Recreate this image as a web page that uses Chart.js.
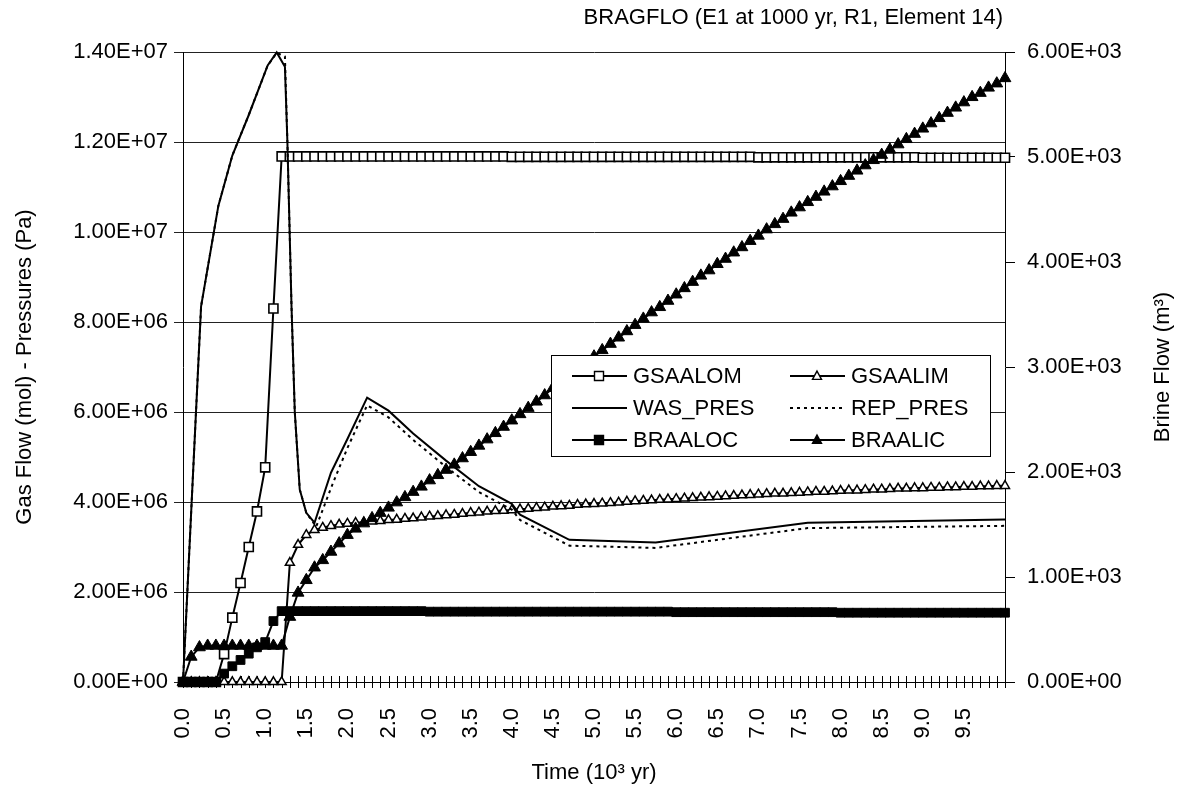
<!DOCTYPE html>
<html>
<head>
<meta charset="utf-8">
<script src="https://cdn.jsdelivr.net/npm/chart.js@4.4.1/dist/chart.umd.min.js"></script>
<style>
  html, body { margin: 0; padding: 0; background: #fff; }
  canvas { display: block; }
</style>
</head>
<body>
<canvas id="bragfloChart" width="1183" height="790"></canvas>
<script>
// time of each output step, 10^3 yr
var timeKyr = [
    0.0, 0.1, 0.2, 0.3, 0.4, 0.5, 0.6, 0.7, 0.8, 0.9,
    1.0, 1.1, 1.2, 1.3, 1.4, 1.5, 1.6, 1.7, 1.8, 1.9,
    2.0, 2.1, 2.2, 2.3, 2.4, 2.5, 2.6, 2.7, 2.8, 2.9,
    3.0, 3.1, 3.2, 3.3, 3.4, 3.5, 3.6, 3.7, 3.8, 3.9,
    4.0, 4.1, 4.2, 4.3, 4.4, 4.5, 4.6, 4.7, 4.8, 4.9,
    5.0, 5.1, 5.2, 5.3, 5.4, 5.5, 5.6, 5.7, 5.8, 5.9,
    6.0, 6.1, 6.2, 6.3, 6.4, 6.5, 6.6, 6.7, 6.8, 6.9,
    7.0, 7.1, 7.2, 7.3, 7.4, 7.5, 7.6, 7.7, 7.8, 7.9,
    8.0, 8.1, 8.2, 8.3, 8.4, 8.5, 8.6, 8.7, 8.8, 8.9,
    9.0, 9.1, 9.2, 9.3, 9.4, 9.5, 9.6, 9.7, 9.8, 9.9,
    10.0
];

// gas flow, 10^6 mol (left axis)
var gsaalom = [
    0, 0, 0, 0, 0, 0.62, 1.43, 2.2, 3.0, 3.79,
    4.77, 8.3, 11.68, 11.68, 11.68, 11.68, 11.68, 11.68, 11.68, 11.68,
    11.68, 11.68, 11.68, 11.68, 11.68, 11.68, 11.68, 11.68, 11.68, 11.68,
    11.68, 11.68, 11.68, 11.68, 11.68, 11.68, 11.68, 11.68, 11.68, 11.68,
    11.67, 11.67, 11.67, 11.67, 11.67, 11.67, 11.67, 11.67, 11.67, 11.67,
    11.67, 11.67, 11.67, 11.67, 11.67, 11.67, 11.67, 11.67, 11.67, 11.67,
    11.67, 11.67, 11.67, 11.67, 11.67, 11.67, 11.67, 11.67, 11.67, 11.67,
    11.66, 11.66, 11.66, 11.66, 11.66, 11.66, 11.66, 11.66, 11.66, 11.66,
    11.66, 11.66, 11.66, 11.66, 11.66, 11.66, 11.66, 11.66, 11.66, 11.66,
    11.65, 11.65, 11.65, 11.65, 11.65, 11.65, 11.65, 11.65, 11.65, 11.65,
    11.65
];
var gsaalim = [
    0, 0, 0, 0, 0, 0, 0, 0, 0, 0,
    0, 0, 0, 2.65, 3.05, 3.27, 3.38, 3.43, 3.47, 3.5,
    3.52, 3.54, 3.55, 3.57, 3.58, 3.6, 3.61, 3.63, 3.64, 3.66,
    3.68, 3.69, 3.71, 3.72, 3.74, 3.76, 3.77, 3.79, 3.8, 3.81,
    3.82, 3.84, 3.85, 3.87, 3.88, 3.9, 3.91, 3.92, 3.94, 3.95,
    3.96, 3.97, 3.98, 3.99, 4.01, 4.02, 4.03, 4.04, 4.05, 4.06,
    4.07, 4.08, 4.09, 4.1, 4.11, 4.12, 4.13, 4.14, 4.15, 4.16,
    4.17, 4.18, 4.19, 4.19, 4.2, 4.21, 4.22, 4.23, 4.23, 4.24,
    4.25, 4.26, 4.26, 4.27, 4.28, 4.28, 4.29, 4.3, 4.3, 4.31,
    4.31, 4.32, 4.32, 4.33, 4.33, 4.34, 4.34, 4.35, 4.35, 4.36,
    4.36
];

// pressures, 10^6 Pa (left axis), own output times
var wasTime = [0, 0.22, 0.43, 0.6, 0.8, 1.03, 1.14, 1.24, 1.27, 1.32, 1.36, 1.42, 1.5, 1.6,
    1.8, 2.0, 2.24, 2.5, 2.8, 3.2, 3.6, 4.0, 4.1, 4.7, 5.75, 7.6, 10.0];
var wasPres = [0, 8.35, 10.58, 11.7, 12.6, 13.7, 13.99, 13.67, 12.0, 8.35, 6.0, 4.28, 3.76, 3.54,
    4.65, 5.4, 6.32, 6.03, 5.52, 4.92, 4.35, 3.96, 3.72, 3.16, 3.10, 3.54, 3.61];
var repTime = [0, 0.22, 0.43, 0.6, 0.8, 1.03, 1.14, 1.24, 1.27, 1.32, 1.36, 1.42, 1.5, 1.62,
    1.82, 2.0, 2.24, 2.5, 2.8, 3.2, 3.6, 4.0, 4.1, 4.7, 5.75, 7.6, 10.0];
var repPres = [0, 8.35, 10.58, 11.7, 12.6, 13.7, 13.98, 13.9, 12.0, 8.35, 6.0, 4.28, 3.76, 3.45,
    4.4, 5.2, 6.15, 5.88, 5.38, 4.78, 4.22, 3.83, 3.6, 3.03, 2.98, 3.42, 3.47];

// brine flow, 10^3 m3 (right axis)
var braaloc = [
    0, 0, 0, 0, 0, 0.08, 0.15, 0.21, 0.27, 0.33,
    0.38, 0.58, 0.675, 0.675, 0.675, 0.675, 0.675, 0.675, 0.675, 0.675,
    0.675, 0.675, 0.675, 0.675, 0.675, 0.675, 0.675, 0.675, 0.675, 0.675,
    0.67, 0.67, 0.67, 0.67, 0.67, 0.67, 0.67, 0.67, 0.67, 0.67,
    0.67, 0.67, 0.67, 0.67, 0.67, 0.67, 0.67, 0.67, 0.67, 0.67,
    0.67, 0.67, 0.67, 0.67, 0.67, 0.67, 0.67, 0.67, 0.67, 0.67,
    0.665, 0.665, 0.665, 0.665, 0.665, 0.665, 0.665, 0.665, 0.665, 0.665,
    0.665, 0.665, 0.665, 0.665, 0.665, 0.665, 0.665, 0.665, 0.665, 0.665,
    0.66, 0.66, 0.66, 0.66, 0.66, 0.66, 0.66, 0.66, 0.66, 0.66,
    0.66, 0.66, 0.66, 0.66, 0.66, 0.66, 0.66, 0.66, 0.66, 0.66,
    0.66
];
var braalic = [
    0, 0.24, 0.33, 0.345, 0.345, 0.345, 0.345, 0.345, 0.345, 0.345,
    0.345, 0.345, 0.345, 0.62, 0.85, 0.97, 1.09, 1.16, 1.24, 1.32,
    1.4, 1.46, 1.51, 1.56, 1.61, 1.66, 1.71, 1.76, 1.81, 1.86,
    1.92, 1.97, 2.02, 2.07, 2.13, 2.19, 2.25, 2.31, 2.37, 2.43,
    2.49, 2.55, 2.61, 2.67, 2.73, 2.8, 2.86, 2.92, 2.98, 3.04,
    3.1, 3.16, 3.22, 3.28, 3.34, 3.4, 3.46, 3.52, 3.57, 3.63,
    3.69, 3.75, 3.81, 3.87, 3.92, 3.98, 4.03, 4.09, 4.14, 4.2,
    4.25, 4.31, 4.36, 4.41, 4.47, 4.52, 4.57, 4.62, 4.67, 4.72,
    4.77, 4.82, 4.87, 4.92, 4.97, 5.02, 5.07, 5.12, 5.17, 5.22,
    5.27, 5.32, 5.37, 5.42, 5.47, 5.52, 5.57, 5.61, 5.66, 5.7,
    5.75
];

var FONT = '"Liberation Sans", Arial, sans-serif';
Chart.defaults.font.family = FONT;
Chart.defaults.font.size = 22;
Chart.defaults.color = '#000';

function sciLabel(v) {
    var s = v.toExponential(2).split('e');
    var ex = s[1];
    return s[0] + 'E' + ex.charAt(0) + ex.slice(1).padStart(2, '0');
}

function toXY(times, vals) {
    return times.map(function (t, i) { return { x: t, y: vals[i] }; });
}

function drawMarker(ctx, style, x, y, half, filled) {
    ctx.beginPath();
    if (style === 'rect') {
        ctx.rect(x - half, y - half, half * 2, half * 2);
    } else {
        ctx.moveTo(x, y - half * 1.1);
        ctx.lineTo(x + half, y + half * 0.75);
        ctx.lineTo(x - half, y + half * 0.75);
        ctx.closePath();
    }
    ctx.fillStyle = filled ? '#000' : '#fff';
    ctx.fill();
    ctx.lineWidth = 1.4;
    ctx.strokeStyle = '#000';
    ctx.stroke();
}

var decor = {
    id: 'decor',
    beforeDatasetsDraw: function (chart) {
        // tick marks crossing the time axis
        var ctx = chart.ctx, xs = chart.scales.x, ca = chart.chartArea;
        ctx.save();
        ctx.strokeStyle = '#000';
        ctx.lineWidth = 1;
        xs.ticks.forEach(function (tk) {
            var px = Math.round(xs.getPixelForValue(tk.value)) + 0.5;
            ctx.beginPath();
            ctx.moveTo(px, ca.bottom - 6);
            ctx.lineTo(px, ca.bottom + 6);
            ctx.stroke();
        });
        ctx.restore();
    },
    afterDraw: function (chart) {
        var ctx = chart.ctx, ca = chart.chartArea;
        ctx.save();
        ctx.fillStyle = '#000';
        ctx.font = '22px ' + FONT;
        ctx.textBaseline = 'middle';

        ctx.textAlign = 'right';
        ctx.fillText('BRAGFLO (E1 at 1000 yr, R1, Element 14)', ca.right - 2, 18);

        ctx.save();
        ctx.translate(chart.width - 20, (ca.top + ca.bottom) / 2);
        ctx.rotate(-Math.PI / 2);
        ctx.textAlign = 'center';
        ctx.fillText('Brine Flow (m\u00B3)', 0, 0);
        ctx.restore();

        // legend box
        var bx = ca.left + 368, by = ca.top + 303, bw = 439, bh = 101;
        ctx.fillStyle = '#fff';
        ctx.fillRect(bx, by, bw, bh);
        ctx.strokeStyle = '#000';
        ctx.lineWidth = 1;
        ctx.strokeRect(bx + 0.5, by + 0.5, bw, bh);
        chart.data.datasets.forEach(function (ds, i) {
            var col = i % 2, row = Math.floor(i / 2);
            var x0 = bx + 21 + col * 218, y = by + 21 + row * 32;
            ctx.save();
            ctx.strokeStyle = '#000';
            ctx.lineWidth = ds.borderWidth;
            ctx.setLineDash(ds.borderDash || []);
            ctx.beginPath();
            ctx.moveTo(x0, y);
            ctx.lineTo(x0 + 55, y);
            ctx.stroke();
            ctx.setLineDash([]);
            if (ds.pointRadius > 0) {
                drawMarker(ctx, ds.pointStyle, x0 + 27, y, 4.5, ds.pointBackgroundColor === '#000');
            }
            ctx.fillStyle = '#000';
            ctx.textAlign = 'left';
            ctx.fillText(ds.label, x0 + 61, y + 1);
            ctx.restore();
        });
        ctx.restore();
    }
};

var lineBase = {
    borderColor: '#000',
    fill: false,
    tension: 0,
    clip: false
};

var ctxEl = document.getElementById('bragfloChart');
new Chart(ctxEl, {
    type: 'line',
    data: {
        datasets: [
            Object.assign({}, lineBase, {
                label: 'GSAALOM', data: toXY(timeKyr, gsaalom), yAxisID: 'y',
                borderWidth: 2, pointStyle: 'rect', pointRadius: 6.4,
                pointBackgroundColor: '#fff', pointBorderColor: '#000', pointBorderWidth: 1.6, order: 5
            }),
            Object.assign({}, lineBase, {
                label: 'GSAALIM', data: toXY(timeKyr, gsaalim), yAxisID: 'y',
                borderWidth: 2, pointStyle: 'triangle', pointRadius: 5.2,
                pointBackgroundColor: '#fff', pointBorderColor: '#000', pointBorderWidth: 1.5, order: 4
            }),
            Object.assign({}, lineBase, {
                label: 'WAS_PRES', data: toXY(wasTime, wasPres), yAxisID: 'y',
                borderWidth: 2, pointRadius: 0, order: 3
            }),
            Object.assign({}, lineBase, {
                label: 'REP_PRES', data: toXY(repTime, repPres), yAxisID: 'y',
                borderWidth: 2, borderDash: [3, 4], pointRadius: 0, order: 2
            }),
            Object.assign({}, lineBase, {
                label: 'BRAALOC', data: toXY(timeKyr, braaloc), yAxisID: 'y1',
                borderWidth: 2, pointStyle: 'rect', pointRadius: 6.2,
                pointBackgroundColor: '#000', pointBorderColor: '#000', pointBorderWidth: 1, order: 1
            }),
            Object.assign({}, lineBase, {
                label: 'BRAALIC', data: toXY(timeKyr, braalic), yAxisID: 'y1',
                borderWidth: 2, pointStyle: 'triangle', pointRadius: 6.8,
                pointBackgroundColor: '#000', pointBorderColor: '#000', pointBorderWidth: 1, order: 0
            })
        ]
    },
    options: {
        responsive: false,
        animation: false,
        devicePixelRatio: 1,
        layout: { padding: { top: 52, left: 0, right: 0, bottom: 0 } },
        plugins: {
            legend: { display: false },
            tooltip: { enabled: false }
        },
        scales: {
            x: {
                type: 'linear',
                min: 0,
                max: 10,
                grid: { display: false },
                border: { display: true, color: '#000', width: 1 },
                ticks: {
                    stepSize: 0.1,
                    autoSkip: false,
                    minRotation: 90,
                    maxRotation: 90,
                    padding: 18,
                    callback: function (value) {
                        var k = Math.round(value * 10);
                        return (k % 5 === 0 && k < 100) ? (k / 10).toFixed(1) : '';
                    }
                },
                title: { display: true, text: 'Time (10\u00B3 yr)', padding: { top: 0, bottom: 4 } },
                afterFit: function (s) { s.height = 108; }
            },
            y: {
                position: 'left',
                min: 0,
                max: 14,
                grid: { color: '#222', lineWidth: 1, tickLength: 9 },
                border: { color: '#000', width: 1 },
                ticks: {
                    stepSize: 2,
                    padding: 6,
                    callback: function (v) { return sciLabel(v * 1e6); }
                },
                title: { display: true, text: 'Gas Flow (mol) - Pressures (Pa)', padding: { top: 12 } },
                afterFit: function (s) { s.width = 183; }
            },
            y1: {
                position: 'right',
                min: 0,
                max: 6,
                grid: { drawOnChartArea: false, color: '#000', tickLength: 10 },
                border: { color: '#000', width: 1 },
                ticks: {
                    stepSize: 1,
                    padding: 12,
                    callback: function (v) { return sciLabel(v * 1e3); }
                },
                afterFit: function (s) { s.width = 178; }
            }
        }
    },
    plugins: [decor]
});
</script>
</body>
</html>
